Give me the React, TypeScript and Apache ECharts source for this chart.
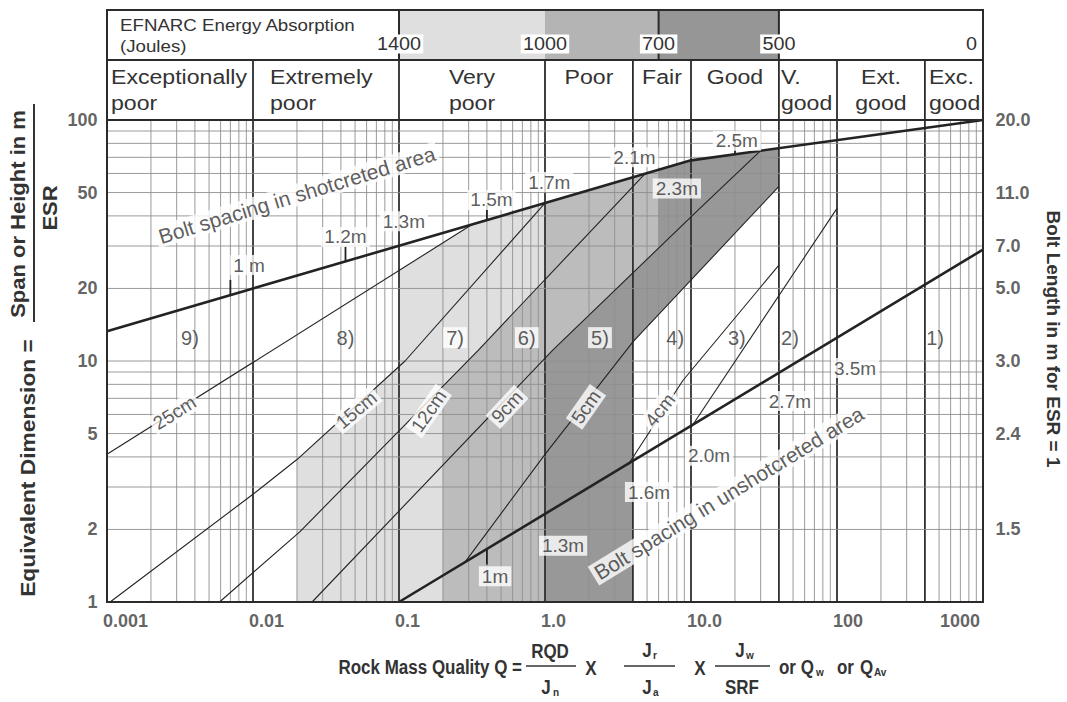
import React, { useEffect, useRef } from "react";
import * as echarts from "echarts";

const FONT = "'Liberation Sans', Arial, Helvetica, sans-serif";

// ---- axes ----
const qDecades = [0.001, 0.01, 0.1, 1, 10, 100, 1000];
const qDecadeLabels = ["0.001", "0.01", "0.1", "1.0", "10.0", "100", "1000"];
const gridMultipliers = [1, 2, 3, 4, 5, 6, 7, 8, 9];
const majorGridQ = [0.01, 0.1, 1, 4, 10, 40, 100, 400];
const dGridDecades = [1, 10];
const dTicks = [1, 2, 5, 10, 20, 50, 100];
const boltLengthD = [2, 5, 10, 20, 30, 50, 100];
const boltLengthLabels = ["1.5", "2.4", "3.0", "5.0", "7.0", "11.0", "20.0"];

// ---- header: rock mass classes ----
const classNames = [
  ["Exceptionally", "poor"],
  ["Extremely", "poor"],
  ["Very", "poor"],
  ["Poor"],
  ["Fair"],
  ["Good"],
  ["V.", "good"],
  ["Ext.", "good"],
  ["Exc.", "good"],
];
const classBounds = [0.001, 0.01, 0.1, 1, 4, 10, 40, 100, 400, 1000];
const classAlign = ["left", "left", "center", "center", "center", "center", "left", "center", "left"];
const classLeftPad = [4, 17, 0, 0, 0, 0, 2, 0, 4];

// ---- header: EFNARC energy absorption ----
const energyQ = [0.1, 1, 6, 40];
const energyLabels = ["1400", "1000", "700", "500"];
const energyBands = [
  [0.1, 1],
  [1, 6],
  [6, 40],
];
const energyDividers = [0.1, 6, 40];

// ---- lines (Q, equivalent dimension) ----
const boltShotcrete = [[0.001, 13.3], [10, 68], [1000, 100]];
const boltUnshotcrete = [[0.1, 1], [1000, 29]];
const sc25 = [[0.001, 4.1], [0.32, 37]];
const sc15 = [[0.00105, 1], [0.01, 2.8], [0.02, 3.9], [0.11, 10], [1, 45.2]];
const sc12 = [[0.0059, 1], [0.021, 1.96], [0.35, 11.1], [4.8, 59.5]];
const sc9 = [[0.0254, 1], [1.13, 11.1], [11.5, 43], [30, 74.6]];
const sc5 = [[0.28, 1.45], [1, 4.1], [4, 12], [40, 53]];
const sc4 = [[3.7, 3.7], [8.8, 8.3], [40, 25]];
const cat3 = [[10, 5.3], [100, 43]];

// leader ticks from the bolt lines to their labels: [Q, D on line, direction]
const boltTicks = [
  [0.007, 18.8, -1],
  [0.043, 25.9, -1],
  [0.4, 38.5, -1],
  [20, 72.1, -1],
  [0.4, 1.65, 1],
];

// ---- shaded zones ----
const zoneLight = [[0.02, 1], [0.02, 3.9], [0.1, 9.5], [0.1, 23.9], [0.32, 37], [1, 45.2], [1, 1]];
const zoneMedium = [[0.2, 1], [0.2, 7.9], [0.35, 11.1], [1, 21.4], [1, 45.2], [6, 62], [6, 15.6], [4, 12], [4, 1]];
const zoneDark = [[1, 1], [1, 10.3], [1.13, 11.1], [6, 29.4], [6, 62], [10, 68], [40, 76.4], [40, 53], [4, 12], [4, 1]];

// ---- annotations ----
const upperBoltLabels: [string, number, number][] = [
  ["1 m", 0.0094, 25],
  ["1.2m", 0.043, 32.7],
  ["1.3m", 0.108, 38],
  ["1.5m", 0.43, 46.6],
  ["1.7m", 1.07, 55.3],
  ["2.1m", 4.1, 70],
  ["2.3m", 8.0, 52],
  ["2.5m", 20.6, 82],
];
const lowerBoltLabels: [string, number, number][] = [
  ["1m", 0.455, 1.28],
  ["1.3m", 1.33, 1.71],
  ["1.6m", 5.16, 2.86],
  ["2.0m", 13.3, 4.04],
  ["2.7m", 47.6, 6.82],
  ["3.5m", 133, 9.35],
];
const thicknessLabels: [string, number, number, number][] = [
  ["25cm", 0.0029, 6.1, 32],
  ["15cm", 0.051, 6.26, 40],
  ["12cm", 0.16, 6.2, 55],
  ["9cm", 0.55, 6.45, 47],
  ["5cm", 1.91, 6.45, 55],
  ["4cm", 6.13, 6.26, 52],
];
const categoryLabels: [string, number][] = [
  ["9)", 0.0037],
  ["8)", 0.043],
  ["7)", 0.242],
  ["6)", 0.75],
  ["5)", 2.38],
  ["4)", 7.8],
  ["3)", 20.6],
  ["2)", 47.6],
  ["1)", 470],
];
const categoryLabelD = 12.5;
const boxedCategories = ["7)", "6)", "5)"];
const areaLabels: [string, number, number, number][] = [
  ["Bolt spacing in shotcreted area", 0.02, 48.9, 17],
  ["Bolt spacing in unshotcreted area", 18.2, 2.83, 31.5],
];

const C_LIGHT = "#dfdfdf";
const C_MED = "#bcbcbc";
const C_DARK = "#989898";
const TXT = "#333333";

export default function App() {
  const ref = useRef<HTMLDivElement>(null);

  useEffect(() => {
    if (!ref.current) return;
    document.body.style.margin = "0";
    const chart = echarts.init(ref.current, undefined, { renderer: "svg" });

    const vGrid: number[][] = [];
    qDecades.slice(0, -1).forEach((dec) =>
      gridMultipliers.forEach((m) => {
        const q = dec * m;
        if (q <= 0.0010001) return;
        const major = majorGridQ.some((v) => Math.abs(v - q) / v < 1e-6) ? 1 : 0;
        vGrid.push([q, 1, major]);
      })
    );
    const hGrid: number[][] = [];
    dGridDecades.forEach((dec) =>
      gridMultipliers.forEach((m) => {
        const d = dec * m;
        if (d > 1.0001) hGrid.push([0.001, d]);
      })
    );

    const zones = [
      { pts: zoneLight, fill: C_LIGHT },
      { pts: zoneMedium, fill: C_MED },
      { pts: zoneDark, fill: C_DARK },
    ];

    const lineSeries = (data: number[][], width: number) => ({
      type: "line",
      data,
      symbol: "none",
      showSymbol: false,
      silent: true,
      clip: false,
      z: 3,
      lineStyle: { color: "#232323", width },
    });

    const labelItems: any[] = [];
    upperBoltLabels.forEach(([t, q, d]) =>
      labelItems.push({ value: [q, d], name: t, label: { backgroundColor: "#fff" } })
    );
    lowerBoltLabels.forEach(([t, q, d]) =>
      labelItems.push({ value: [q, d], name: t, label: { backgroundColor: "#fff" } })
    );
    thicknessLabels.forEach(([t, q, d, r]) =>
      labelItems.push({ value: [q, d], name: t, label: { backgroundColor: "#fff", rotate: r } })
    );
    categoryLabels.forEach(([t, q]) =>
      labelItems.push({
        value: [q, categoryLabelD],
        name: t,
        label: boxedCategories.includes(t) ? { backgroundColor: "#fff", fontSize: 20 } : { fontSize: 20 },
      })
    );
    areaLabels.forEach(([t, q, d, r]) =>
      labelItems.push({ value: [q, d], name: t, label: { backgroundColor: "#fff", rotate: r, fontSize: 21 } })
    );

    const last = qDecades.length - 1;
    const option: any = {
      animation: false,
      backgroundColor: "#fff",
      grid: { left: 107, top: 120, width: 876, height: 482, containLabel: false, outerBoundsMode: "none" },
      xAxis: {
        type: "log",
        logBase: 10,
        min: 0.001,
        max: 1000,
        axisLine: { show: false },
        axisTick: { show: false },
        splitLine: { show: false },
        axisLabel: { show: false },
      },
      yAxis: {
        type: "log",
        logBase: 10,
        min: 1,
        max: 100,
        axisLine: { show: false },
        axisTick: { show: false },
        splitLine: { show: false },
        axisLabel: { show: false },
      },
      series: [
        {
          type: "custom",
          silent: true,
          z: 1,
          clip: false,
          data: zones.map((_, i) => [1, 1, i]),
          renderItem: (_p: any, api: any) => {
            const z = zones[api.value(2)];
            return {
              type: "polygon",
              shape: { points: z.pts.map((p) => api.coord(p)) },
              style: { fill: z.fill, stroke: null },
            };
          },
        },
        {
          type: "custom",
          silent: true,
          z: 2,
          data: vGrid,
          renderItem: (_p: any, api: any) => {
            const q = api.value(0);
            const a = api.coord([q, 1]);
            const b = api.coord([q, 100]);
            const major = api.value(2) === 1;
            return {
              type: "line",
              shape: { x1: a[0], y1: a[1], x2: b[0], y2: b[1] },
              style: { stroke: major ? "#303030" : "#8e8e8e", lineWidth: major ? 1.8 : 0.9 },
            };
          },
        },
        {
          type: "custom",
          silent: true,
          z: 2,
          data: hGrid,
          renderItem: (_p: any, api: any) => {
            const d = api.value(1);
            const a = api.coord([0.001, d]);
            const b = api.coord([1000, d]);
            return {
              type: "line",
              shape: { x1: a[0], y1: a[1], x2: b[0], y2: b[1] },
              style: { stroke: "#8e8e8e", lineWidth: 0.9 },
            };
          },
        },
        {
          type: "custom",
          silent: true,
          z: 4,
          data: boltTicks,
          renderItem: (_p: any, api: any) => {
            const a = api.coord([api.value(0), api.value(1)]);
            const dir = api.value(2);
            return {
              type: "line",
              shape: { x1: a[0], y1: a[1], x2: a[0], y2: a[1] + dir * 15 },
              style: { stroke: "#222", lineWidth: 1.8 },
            };
          },
        },
        lineSeries(boltShotcrete, 2.6),
        lineSeries(boltUnshotcrete, 2.6),
        lineSeries(sc25, 1.1),
        lineSeries(sc15, 1.1),
        lineSeries(sc12, 1.1),
        lineSeries(sc9, 1.1),
        lineSeries(sc5, 1.1),
        lineSeries(sc4, 1.1),
        lineSeries(cat3, 1.1),
        {
          type: "scatter",
          silent: true,
          z: 10,
          symbolSize: 1,
          itemStyle: { color: "transparent" },
          data: labelItems,
          label: {
            show: true,
            position: "inside",
            formatter: "{b}",
            fontFamily: FONT,
            fontSize: 19,
            color: TXT,
            padding: [1, 3, 0, 3],
          },
        },
        {
          type: "scatter",
          silent: true,
          z: 10,
          symbolSize: 1,
          itemStyle: { color: "transparent" },
          data: dTicks.map((d) => ({ value: [0.001, d], name: String(d) })),
          label: {
            show: true,
            position: "left",
            distance: 9,
            formatter: "{b}",
            fontFamily: FONT,
            fontWeight: "bold",
            fontSize: 18,
            color: "#3a3a3a",
          },
        },
        {
          type: "scatter",
          silent: true,
          z: 10,
          symbolSize: 1,
          itemStyle: { color: "transparent" },
          data: boltLengthD.map((d, i) => ({ value: [1000, d], name: boltLengthLabels[i] })),
          label: {
            show: true,
            position: "right",
            distance: 12,
            formatter: "{b}",
            fontFamily: FONT,
            fontWeight: "bold",
            fontSize: 18,
            color: "#3a3a3a",
          },
        },
        {
          type: "scatter",
          silent: true,
          z: 10,
          symbolSize: 1,
          itemStyle: { color: "transparent" },
          data: qDecades.map((q, i) => ({
            value: [q, 1],
            name: qDecadeLabels[i],
            label: i === last ? { align: "right", offset: [-3, 0] } : { align: "left", offset: [-4, 0] },
          })),
          label: {
            show: true,
            position: "bottom",
            distance: 9,
            formatter: "{b}",
            fontFamily: FONT,
            fontWeight: "bold",
            fontSize: 18,
            color: "#3a3a3a",
          },
        },
      ],
    };
    chart.setOption(option);

    const X = (q: number) => chart.convertToPixel({ xAxisIndex: 0 }, q) as number;
    const Y = (d: number) => chart.convertToPixel({ yAxisIndex: 0 }, d) as number;
    const L = X(0.001);
    const R = X(1000);
    const T = Y(100);
    const B = Y(1);
    const eTop = T - 110;
    const eBot = T - 60;

    const g: any[] = [];
    const bandFills = [C_LIGHT, "#b4b4b4", "#969696"];
    energyBands.forEach(([a, b], i) =>
      g.push({ type: "rect", z: 50, shape: { x: X(a), y: eTop, width: X(b) - X(a), height: eBot - eTop }, style: { fill: bandFills[i] } })
    );
    energyDividers.forEach((q) =>
      g.push({ type: "line", z: 52, shape: { x1: X(q), y1: eTop, x2: X(q), y2: eBot }, style: { stroke: "#2b2b2b", lineWidth: 2 } })
    );
    classBounds.slice(1, -1).forEach((q) =>
      g.push({ type: "line", z: 52, shape: { x1: X(q), y1: eBot, x2: X(q), y2: T }, style: { stroke: "#2b2b2b", lineWidth: 1.8 } })
    );
    g.push({ type: "line", z: 53, shape: { x1: L, y1: eBot, x2: R, y2: eBot }, style: { stroke: "#2b2b2b", lineWidth: 2 } });
    g.push({ type: "line", z: 53, shape: { x1: L, y1: T, x2: R, y2: T }, style: { stroke: "#2b2b2b", lineWidth: 2 } });
    g.push({ type: "rect", z: 53, shape: { x: L, y: eTop, width: R - L, height: B - eTop }, style: { fill: "none", stroke: "#2b2b2b", lineWidth: 2 } });

    const hText = (text: string, x: number, y: number, size: number, align: string, extra: any = {}) => ({
      type: "text",
      z: 55,
      x,
      y,
      scaleX: 1.1,
      style: { text, font: `${size}px ${FONT}`, fill: TXT, align, verticalAlign: "middle", ...extra },
    });

    g.push(hText("EFNARC Energy Absorption", L + 13, eTop + 15, 17, "left"));
    g.push(hText("(Joules)", L + 13, eTop + 36, 17, "left"));
    energyQ.forEach((q, i) =>
      g.push(hText(energyLabels[i], X(q), eTop + 34, 18, "center", { backgroundColor: "#fff", padding: [1, 2, 0, 2] }))
    );
    g.push(hText("0", R - 6, eTop + 34, 18, "right"));

    classNames.forEach((lines, i) => {
      const a = X(classBounds[i]);
      const b = X(classBounds[i + 1]);
      const align = classAlign[i];
      const x = align === "left" ? a + classLeftPad[i] : (a + b) / 2;
      lines.forEach((t, j) => g.push(hText(t, x, eBot + 17 + j * 26, 21, align)));
    });

    // axis titles
    const boldT = (text: string, x: number, y: number, size: number, rot = 0, sx = 1, align = "center", sy = 1) => ({
      type: "text",
      z: 55,
      x,
      y,
      rotation: rot,
      scaleX: sx,
      scaleY: sy,
      style: { text, font: `bold ${size}px ${FONT}`, fill: TXT, align, verticalAlign: "middle" },
    });
    g.push(boldT("Equivalent Dimension =", 28, 468, 20, Math.PI / 2, 1.14));
    g.push(boldT("Span or Height in m", 18, 214, 20, Math.PI / 2, 1.1));
    g.push({ type: "line", z: 55, shape: { x1: 34, y1: 104, x2: 34, y2: 322 }, style: { stroke: TXT, lineWidth: 2 } });
    g.push(boldT("ESR", 50, 208, 20, Math.PI / 2, 1.1));
    g.push(boldT("Bolt Length in m for ESR = 1", 1053, 339, 19, -Math.PI / 2, 1.0));

    // Q formula
    const fy = 1.15;
    g.push(boldT("Rock Mass Quality Q =", 522, 667, 17, 0, 1, "right", fy));
    g.push(boldT("RQD", 550, 651, 17, 0, 1, "center", fy));
    g.push({ type: "line", z: 55, shape: { x1: 526, y1: 666, x2: 576, y2: 666 }, style: { stroke: TXT, lineWidth: 1.5 } });
    g.push(boldT("J", 546, 687, 17, 0, 1, "center", fy));
    g.push(boldT("n", 553, 692, 10, 0, 1, "left"));
    g.push(boldT("X", 591, 668, 17, 0, 1, "center", fy));
    g.push(boldT("J", 647, 650, 17, 0, 1, "center", fy));
    g.push(boldT("r", 653, 655, 10, 0, 1, "left"));
    g.push({ type: "line", z: 55, shape: { x1: 624, y1: 666, x2: 675, y2: 666 }, style: { stroke: TXT, lineWidth: 1.5 } });
    g.push(boldT("J", 647, 687, 17, 0, 1, "center", fy));
    g.push(boldT("a", 653, 692, 10, 0, 1, "left"));
    g.push(boldT("X", 700, 668, 17, 0, 1, "center", fy));
    g.push(boldT("J", 740, 650, 17, 0, 1, "center", fy));
    g.push(boldT("w", 746, 655, 10, 0, 1, "left"));
    g.push({ type: "line", z: 55, shape: { x1: 715, y1: 666, x2: 770, y2: 666 }, style: { stroke: TXT, lineWidth: 1.5 } });
    g.push(boldT("SRF", 742, 687, 17, 0, 1, "center", fy));
    g.push(boldT("or Q", 779, 667, 17, 0, 1, "left", fy));
    g.push(boldT("w", 816, 672, 10, 0, 1, "left"));
    g.push(boldT("or", 837, 667, 17, 0, 1, "left", fy));
    g.push(boldT("Q", 860, 667, 17, 0, 1, "left", fy));
    g.push(boldT("Av", 874, 672, 10, 0, 1, "left"));

    chart.setOption({ graphic: g });

    return () => chart.dispose();
  }, []);

  return (
    <div
      ref={ref}
      style={{ position: "absolute", left: 0, top: 0, width: 1067, height: 702, background: "#fff" }}
    />
  );
}
